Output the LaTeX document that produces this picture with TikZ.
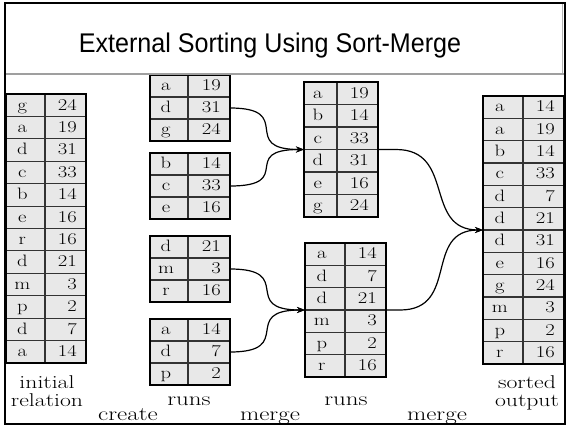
\documentclass[tikz,border=0pt]{standalone}
\usepackage{fontspec}
\usepackage{graphicx}
\newfontfamily\titlefont{Liberation Sans}
\usetikzlibrary{arrows.meta}

\definecolor{cellgray}{gray}{0.91}

% widened serif text, as in the original figure
\newcommand\wx[1]{\scalebox{1.25}[1]{#1}}
\newcommand\wl[1]{\scalebox{1.28}[1]{#1}}

\tikzset{
  cellbox/.style={fill=cellgray, draw=black!80, line width=1.1pt},
  tableframe/.style={rectangle, draw=black, line width=1.7pt, inner sep=0pt, outer sep=0pt},
  celltext/.style={inner sep=0pt, font=\fontsize{16.5}{17}\selectfont},
  labeltext/.style={inner sep=0pt, anchor=base, font=\fontsize{19.5}{16.5}\selectfont},
  twoline/.style={inner sep=0pt, anchor=north, align=center, font=\fontsize{18.5}{18.5}\selectfont},
  merge arrow/.style={line width=1.2pt, -{Stealth[length=8pt,width=6pt]}},
}

% #1 name, #2 left x, #3 divider x, #4 right x, #5 top y, #6 bottom y, #7 rows, #8 key/value list
\newcommand\reltable[8]{%
  \pgfmathsetmacro\rowh{(#6-#5)/#7}
  \foreach \k/\v [count=\i] in {#8} {
    \pgfmathsetmacro\ya{#5+(\i-1)*\rowh}
    \pgfmathsetmacro\yb{\ya+\rowh}
    \pgfmathsetmacro\yc{\ya+\rowh/2}
    \draw[cellbox] (#2,\ya) rectangle (#3,\yb);
    \draw[cellbox] (#3,\ya) rectangle (#4,\yb);
    \node[celltext, anchor=base] at ({#2+0.42*(#3-#2)},{\yc+4.8}) {\wx{\k}};
    \node[celltext, anchor=base east] at ({#4-9},{\yc+4.8}) {\wx{\v}};
    \coordinate (#1-\i-e) at (#4,\yc);
    \coordinate (#1-\i-top-w) at (#2,\ya);
    \coordinate (#1-\i-top-e) at (#4,\ya);
  }
  \node[tableframe, anchor=north west, minimum width={(#4-#2)*1pt},
        minimum height={(#6-#5)*1pt}] (#1) at (#2,#5) {};
}

\begin{document}
\begin{tikzpicture}[x=1pt, y=-1pt]
  \useasboundingbox (0,0) rectangle (567,426);
  \fill[white] (0,0) rectangle (567,426);

  % relations
  \reltable{init}{6}{45}{86}{94}{363}{12}{g/24, a/19, d/31, c/33, b/14, e/16, r/16, d/21, m/3, p/2, d/7, a/14}
  \reltable{run1}{150}{188}{230}{75}{141}{3}{a/19, d/31, g/24}
  \reltable{run2}{150}{188}{230}{153}{219}{3}{b/14, c/33, e/16}
  \reltable{run3}{150}{188}{230}{236}{302}{3}{d/21, m/3, r/16}
  \reltable{run4}{150}{188}{230}{319}{385}{3}{a/14, d/7, p/2}
  \reltable{mrg1}{304}{337}{378}{82}{217}{6}{a/19, b/14, c/33, d/31, e/16, g/24}
  \reltable{mrg2}{305}{345}{386}{243}{377}{6}{a/14, d/7, d/21, m/3, p/2, r/16}
  \reltable{sorted}{483}{523}{564}{96}{364}{12}{a/14, a/19, b/14, c/33, d/7, d/21, d/31, e/16, g/24, m/3, p/2, r/16}

  % first merge pass
  \draw[merge arrow] (run1-2-e) .. controls +(66,0) and +(-66,0) .. (mrg1-4-top-w);
  \draw[merge arrow] (run2-2-e) .. controls +(66,0) and +(-66,0) .. (mrg1-4-top-w);
  \draw[merge arrow] (run3-2-e) .. controls +(66,0) and +(-66,0) .. (mrg2-4-top-w);
  \draw[merge arrow] (run4-2-e) .. controls +(66,0) and +(-66,0) .. (mrg2-4-top-w);

  % second merge pass
  \draw[merge arrow] (mrg1-4-top-e) -- ++(18,0) .. controls +(60,0) and +(-60,0) .. (sorted-7-top-w);
  \draw[merge arrow] (mrg2-4-top-e) -- ++(14,0) .. controls +(60,0) and +(-60,0) .. (sorted-7-top-w);

  % captions
  \node[twoline]   (lbl-initial)  at (47,375)  {\wl{initial}\\\wl{relation}};
  \node[labeltext] (lbl-create)   at (128,420) {\wl{create}};
  \node[labeltext] (lbl-runs1)    at (189,405) {\wl{runs}};
  \node[labeltext] (lbl-merge1)   at (270,420) {\wl{merge}};
  \node[labeltext] (lbl-runs2)    at (346,405) {\wl{runs}};
  \node[labeltext] (lbl-merge2)   at (437,420) {\wl{merge}};
  \node[twoline]   (lbl-sorted)   at (527,375) {\wl{sorted}\\\wl{output}};

  % title band and frame
  \fill[white] (5,3) rectangle (565,73);
  \draw[gray!75, line width=2.5pt] (5,74) -- (565,74);
  \draw[gray!60, line width=0.6pt] (562.5,3) -- (562.5,73);
  \node[anchor=base, inner sep=0pt, font=\titlefont\fontsize{27}{30}\selectfont] (title)
    at (270,52) {\scalebox{0.93}[1]{External Sorting Using Sort-Merge}};
  \draw[black, line width=2.5pt] (5,3) rectangle (565,424);
\end{tikzpicture}
\end{document}
